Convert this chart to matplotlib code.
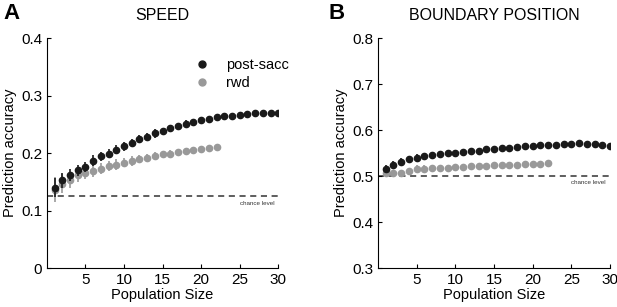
import numpy as np
import matplotlib.pyplot as plt
from matplotlib.lines import Line2D

plt.rcParams['font.family'] = ['Liberation Sans', 'DejaVu Sans']

# Panel A: SPEED
pop_post = np.arange(1, 31)
pop_rwd = np.arange(1, 23)
speed_post = [0.140, 0.153, 0.162, 0.170, 0.176, 0.187, 0.194, 0.199, 0.206, 0.212,
              0.218, 0.224, 0.228, 0.234, 0.238, 0.243, 0.247, 0.251, 0.254, 0.257,
              0.259, 0.262, 0.264, 0.265, 0.266, 0.268, 0.269, 0.269, 0.270, 0.270]
speed_post_err = [0.016, 0.013, 0.011, 0.010, 0.009, 0.009, 0.008, 0.008, 0.008, 0.008,
                  0.007, 0.007, 0.007, 0.007, 0.006, 0.006, 0.006, 0.006, 0.005, 0.005,
                  0.005, 0.005, 0.004, 0.004, 0.004, 0.004, 0.003, 0.003, 0.003, 0.003]
speed_rwd = [0.136, 0.147, 0.153, 0.161, 0.165, 0.169, 0.173, 0.177, 0.180, 0.183,
             0.186, 0.190, 0.192, 0.195, 0.198, 0.199, 0.202, 0.204, 0.205, 0.207,
             0.209, 0.211]
speed_rwd_err = [0.022, 0.017, 0.014, 0.012, 0.011, 0.010, 0.010, 0.009, 0.009, 0.008,
                 0.008, 0.007, 0.007, 0.007, 0.006, 0.006, 0.005, 0.005, 0.004, 0.004,
                 0.003, 0.003]
speed_chance = 0.125

# Panel B: BOUNDARY POSITION
bound_post = [0.515, 0.525, 0.531, 0.536, 0.540, 0.543, 0.546, 0.548, 0.549, 0.551,
              0.553, 0.555, 0.555, 0.558, 0.559, 0.560, 0.562, 0.564, 0.565, 0.566,
              0.567, 0.567, 0.568, 0.570, 0.570, 0.571, 0.570, 0.570, 0.567, 0.565]
bound_post_err = [0.008, 0.008, 0.008, 0.008, 0.008, 0.007, 0.007, 0.007, 0.007, 0.006,
                  0.006, 0.006, 0.006, 0.006, 0.005, 0.005, 0.005, 0.005, 0.004, 0.004,
                  0.004, 0.004, 0.003, 0.003, 0.003, 0.003, 0.003, 0.003, 0.003, 0.003]
bound_rwd = [0.507, 0.506, 0.506, 0.510, 0.515, 0.516, 0.517, 0.518, 0.518, 0.520,
             0.520, 0.521, 0.522, 0.522, 0.523, 0.524, 0.525, 0.525, 0.526, 0.526,
             0.526, 0.528]
bound_rwd_err = [0.008, 0.008, 0.008, 0.008, 0.008, 0.007, 0.007, 0.007, 0.007, 0.006,
                 0.006, 0.006, 0.005, 0.005, 0.005, 0.004, 0.004, 0.004, 0.003, 0.003,
                 0.003, 0.003]
bound_chance = 0.5

black = '#1a1a1a'
gray = '#999999'

fig = plt.figure(figsize=(6.17, 3.07), dpi=100)
axA = fig.add_axes([0.076, 0.127, 0.375, 0.749])
axB = fig.add_axes([0.6126, 0.127, 0.376, 0.749])


def draw(ax, post, post_err, rwd, rwd_err, chance, ylim, yticks, title):
    ax.errorbar(pop_rwd, rwd, yerr=rwd_err, fmt='o', color=gray, ms=4.5,
                elinewidth=1.2, capsize=0, zorder=2)
    ax.errorbar(pop_post, post, yerr=post_err, fmt='o', color=black, ms=4.5,
                elinewidth=1.2, capsize=0, zorder=3)
    ax.axhline(chance, color='#333333', ls=(0, (4, 3)), lw=1.1, zorder=1)
    ax.text(29.5, chance - (ylim[1] - ylim[0]) * 0.03, 'chance level',
            fontsize=4.5, ha='right', va='center', color='#333333')
    ax.set_xlim(0, 30)
    ax.set_ylim(*ylim)
    ax.set_xticks([5, 10, 15, 20, 25, 30])
    ax.set_yticks(yticks)
    ax.set_yticklabels([f'{t:g}' for t in yticks])
    ax.spines['top'].set_visible(False)
    ax.spines['right'].set_visible(False)
    ax.tick_params(direction='in', length=3, labelsize=11)
    ax.set_xlabel('Population Size', fontsize=10.5, labelpad=1)
    ax.set_ylabel('Prediction accuracy', fontsize=10.5, labelpad=3)
    ax.set_title(title, fontsize=11.5, pad=13)


draw(axA, speed_post, speed_post_err, speed_rwd, speed_rwd_err, speed_chance,
     (0, 0.4), [0, 0.1, 0.2, 0.3, 0.4], 'SPEED')
draw(axB, bound_post, bound_post_err, bound_rwd, bound_rwd_err, bound_chance,
     (0.3, 0.8), [0.3, 0.4, 0.5, 0.6, 0.7, 0.8], 'BOUNDARY POSITION')

handles = [Line2D([], [], ls='none', marker='o', color=black, ms=5),
           Line2D([], [], ls='none', marker='o', color=gray, ms=5)]
axA.legend(handles, ['post-sacc', 'rwd'], loc='upper left',
           bbox_to_anchor=(0.58, 0.97), frameon=False, fontsize=10.5,
           handletextpad=1.2, labelspacing=0.3, handlelength=1.0)

fig.text(0.005, 0.955, 'A', fontsize=16, fontweight='bold', va='center')
fig.text(0.533, 0.955, 'B', fontsize=16, fontweight='bold', va='center')

fig.savefig('out.png', dpi=100)
